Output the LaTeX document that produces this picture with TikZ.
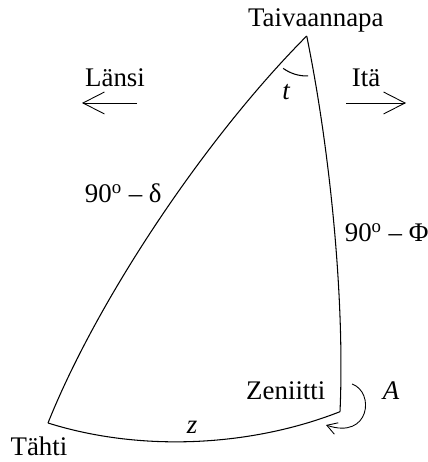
\documentclass[tikz,border=0pt]{standalone}
\usepackage{fontspec}
\setmainfont{Liberation Serif}
\usetikzlibrary{arrows.meta, positioning}
\tikzset{
  lbl/.style={
    inner sep=0pt, anchor=base,
    font=\fontsize{15.3}{18}\selectfont
  },
  side/.style={line width=0.6pt},
  dirarrow/.style={-{Straight Barb[length=0.43cm, width=0.44cm]}, line width=0.5pt},
  turn/.style={-{Straight Barb[length=0.2cm, width=0.24cm]}, line width=0.5pt}
}

\begin{document}
\begin{tikzpicture}[x=0.02cm, y=0.02cm]
    \useasboundingbox (0,0) rectangle (427,462);

    % Vertices
    \coordinate (pole) at (306.7,426);
    \coordinate (zenith) at (340,50.3);
    \coordinate (star) at (48,39);

    % Sides
    \draw[side] (pole) .. controls (330,312) and (345,162) .. (zenith);
    \draw[side] (pole) .. controls (207,326) and (98,164) .. (star);
    \draw[side] (star) .. controls (140,10) and (250,15) .. (zenith);

    % Angle t
    \draw[side] ([shift={(234:40)}]pole) arc[start angle=234, end angle=272, radius=40];

    % Labels
    \node[lbl] (poletxt) at (315.8,435.3) {Taivaannapa};
    \node[lbl] (zentxt) at (285.8,62) {Zeniitti};
    \node[lbl] (startxt) at (39,7) {Tähti};
    \node[lbl] (tlbl) at (286,362) {\itshape t};
    \node[lbl] (zlbl) at (192,29) {\itshape z};
    \node[lbl] (albl) at (391,62) {\itshape A};
    \node[lbl] (declbl) at (123.3,259.3) {90\textsuperscript{o} – δ};
    \node[lbl] (latlbl) at (386.7,220.3) {90\textsuperscript{o} – Φ};

    % West / East
    \node[lbl] (west) at (115,375) {Länsi};
    \node[lbl] (east) at (366,375) {Itä};
    \coordinate (westtail) at (137,359);
    \coordinate (westhead) at (82,359);
    \coordinate (easttail) at (346,359);
    \coordinate (easthead) at (406,359);
    \draw[dirarrow] (westtail) -- (westhead);
    \draw[dirarrow] (easttail) -- (easthead);

    % Azimuth arrow
    \coordinate (azstart) at (352,78);
    \coordinate (azend) at (326,37);
    \draw[turn] (azstart) .. controls (375,70) and (370,22) .. (azend);
  \end{tikzpicture}
\end{document}
